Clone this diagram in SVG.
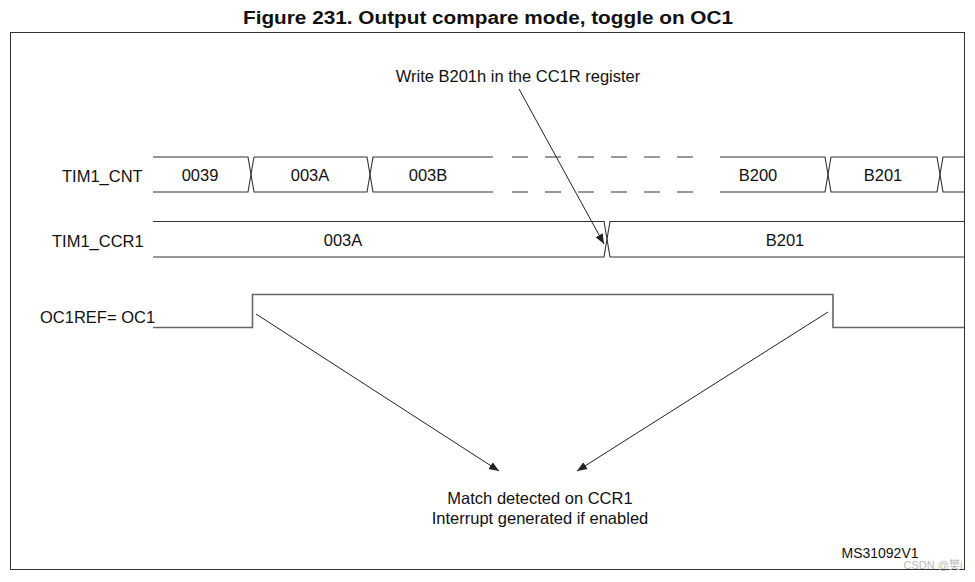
<svg xmlns="http://www.w3.org/2000/svg" width="975" height="582" viewBox="0 0 975 582">
<style>
text{font-family:"Liberation Sans",Arial,sans-serif;fill:#111;}
.t{font-size:16.5px;}
.l{font-size:16.5px;}
.bus{fill:none;stroke:#333;stroke-width:1.1;}
.sig{fill:none;stroke:#666;stroke-width:1.6;}
.dash{fill:none;stroke:#333;stroke-width:1.1;stroke-dasharray:16 17;}
.arr{fill:none;stroke:#222;stroke-width:1;marker-end:url(#ah);}
</style>
<defs>
<marker id="ah" viewBox="0 0 10 10" refX="10" refY="5" markerWidth="10" markerHeight="10" markerUnits="userSpaceOnUse" orient="auto">
<path d="M0,1 L10,5 L0,9 z" fill="#222"/>
</marker>
</defs>
<rect width="975" height="582" fill="#fff"/>
<text x="488" y="24" text-anchor="middle" style="font-size:18px;font-weight:bold" textLength="490" lengthAdjust="spacingAndGlyphs">Figure 231. Output compare mode, toggle on OC1</text>
<rect x="10.5" y="32.5" width="954" height="537" fill="none" stroke="#333" stroke-width="1"/>

<g id="labels">
<text class="l" x="62" y="182">TIM1_CNT</text>
<text class="l" x="52" y="247">TIM1_CCR1</text>
<text class="l" x="40" y="323">OC1REF= OC1</text>
</g>

<g id="tim1_cnt">
<polyline class="bus" points="153,157 248,157 251,174.5 248,192 153,192"/>
<polyline class="bus" points="254,157 367,157 370,174.5 367,192 254,192 251,174.5 254,157"/>
<polyline class="bus" points="493,157 373,157 370,174.5 373,192 493,192"/>
<line class="dash" x1="512" y1="157" x2="700" y2="157"/>
<line class="dash" x1="512" y1="192" x2="700" y2="192"/>
<polyline class="bus" points="720,157 825,157 828,174.5 825,192 720,192"/>
<polyline class="bus" points="831,157 937,157 940,174.5 937,192 831,192 828,174.5 831,157"/>
<polyline class="bus" points="964,157 943,157 940,174.5 943,192 964,192"/>
<text class="t" x="200" y="181" text-anchor="middle">0039</text>
<text class="t" x="310" y="181" text-anchor="middle">003A</text>
<text class="t" x="428" y="181" text-anchor="middle">003B</text>
<text class="t" x="758" y="181" text-anchor="middle">B200</text>
<text class="t" x="883" y="181" text-anchor="middle">B201</text>
</g>

<g id="tim1_ccr1">
<polyline class="bus" points="153,221.5 604,221.5 607,239 604,257 153,257"/>
<polyline class="bus" points="964,221.5 610,221.5 607,239 610,257 964,257"/>
<text class="t" x="343" y="246" text-anchor="middle">003A</text>
<text class="t" x="785" y="246" text-anchor="middle">B201</text>
</g>

<g id="oc1ref">
<polyline class="sig" points="153,327.5 252.5,327.5 252.5,294.5 833,294.5 833,327.5 964,327.5"/>
</g>

<g id="annot_write">
<text class="t" x="518" y="82" text-anchor="middle">Write B201h in the CC1R register</text>
</g>

<g id="annot_match">
<text class="t" x="540" y="504" text-anchor="middle">Match detected on CCR1</text>
<text class="t" x="540" y="524" text-anchor="middle">Interrupt generated if enabled</text>
</g>

<g id="connectors">
<line class="arr" x1="519" y1="89" x2="604" y2="244"/>
<line class="arr" x1="256" y1="314" x2="499" y2="471"/>
<line class="arr" x1="828" y1="312" x2="577" y2="471"/>
</g>

<text x="880" y="558" text-anchor="middle" style="font-size:14px">MS31092V1</text>
<text x="933" y="569" text-anchor="middle" style="font-size:11px;fill:#bbb;font-family:'Liberation Sans','Noto Sans CJK SC',sans-serif">CSDN @樊i</text>
</svg>
